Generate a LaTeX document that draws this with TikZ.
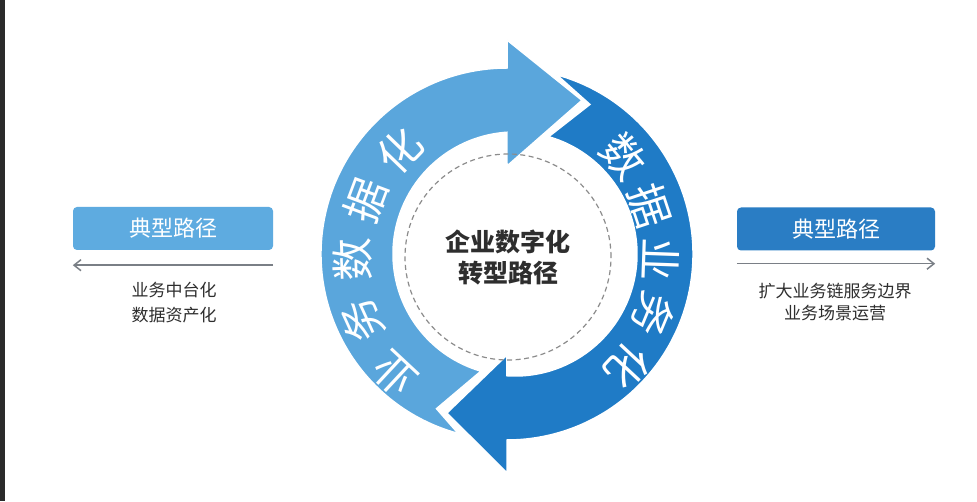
\documentclass[tikz,border=0pt]{standalone}
\usepackage{fontspec}
\setmainfont{Noto Sans CJK SC}
\usetikzlibrary{arrows.meta,positioning,calc}
\definecolor{lightring}{HTML}{5AA6DC}
\definecolor{darkring}{HTML}{1F7BC6}
\definecolor{lightbox}{HTML}{5EABE0}
\definecolor{darkbox}{HTML}{2A7DC4}
\definecolor{inktext}{HTML}{2E2E2E}
\definecolor{pathline}{HTML}{7A7F86}

\begin{document}
\begin{tikzpicture}[x=1pt,y=1pt,
    band/.style={draw=white,line width=1.5pt,line join=miter},
    ringchar/.style={text=white,inner sep=0pt,font=\fontsize{43}{43}\selectfont},
    pathbox/.style={rounded corners=4pt,minimum width=200pt,minimum height=43pt,text=white,font=\fontsize{22}{22}\selectfont},
    pathnote/.style={text=inktext,align=center,font=\fontsize{17}{25}\selectfont},
    patharrow/.style={draw=pathline,line width=1.5pt,-{Straight Barb[length=7pt,width=11pt]}}]
\useasboundingbox (0,0) rectangle (977,501);
\fill[white] (0,0) rectangle (977,501);
\fill[black!83] (0,0) rectangle (5,501);

\coordinate (O1) at (507,247);
\coordinate (O2) at (515,247);

\path[band,fill=darkring] ($(O1)+(74.5:186)$) arc[start angle=74.5,end angle=-90,radius=186pt]
    -- ($(O1)+(-90:219)$) -- ($(O1)+(-110.7:170)$) -- ($(O1)+(-90:101)$)
    -- ($(O2)+(-93.8:122)$) arc[start angle=-93.8,end angle=74,radius=122pt]
    -- ($(O1)+(61:171)$) -- cycle;
\path[band,fill=lightring] ($(O1)+(254.8:186)$) arc[start angle=254.8,end angle=90,radius=186pt]
    -- ($(O1)+(90:214)$) -- ($(O1)+(64:171)$) -- ($(O1)+(90:88)$)
    -- ($(O2)+(93.8:122)$) arc[start angle=93.8,end angle=253.8,radius=122pt]
    -- ($(O1)+(245.5:170)$) -- cycle;

\foreach \ch/\ang/\rad [count=\i] in {业/227/165,务/204.5/160,数/182/155,据/159.5/151,化/136/149}
    \node[ringchar,rotate=\ang-90] (lt\i) at ($(O1)+(\ang:\rad)$) {\ch};
\foreach \ch/\ang/\rad [count=\i] in {数/40/152,据/18.5/151,业/-2/154,务/-22.5/159,化/-43/165}
    \node[ringchar,rotate=\ang-90] (rt\i) at ($(O1)+(\ang:\rad)$) {\ch};

\node[circle,draw=black!45,dash pattern=on 5pt off 3.5pt,line width=1.2pt,minimum size=206pt,
    text=inktext,align=center,font=\fontsize{25}{31}\selectfont\bfseries] (hub) at (508,244) {企业数字化\\转型路径};

\node[pathbox,fill=lightbox] (boxL) at (173,272.5) {典型路径};
\node[pathbox,fill=darkbox,minimum width=198pt] (boxR) at (836,272) {典型路径};

\coordinate[below=15pt of boxL.south east] (arrL0);
\coordinate[below=15pt of boxL.south west] (arrL1);
\coordinate[below=13pt of boxR.south west] (arrR0);
\coordinate[below=13pt of boxR.south east] (arrR1);
\draw[patharrow] (arrL0) -- (arrL1);
\draw[patharrow] (arrR0) -- (arrR1);

\node[pathnote] (noteL) at (174,198.5) {业务中台化\\数据资产化};
\node[pathnote,font=\fontsize{17}{22}\selectfont] (noteR) at (835,198.5) {扩大业务链服务边界\\业务场景运营};
\end{tikzpicture}
\end{document}
